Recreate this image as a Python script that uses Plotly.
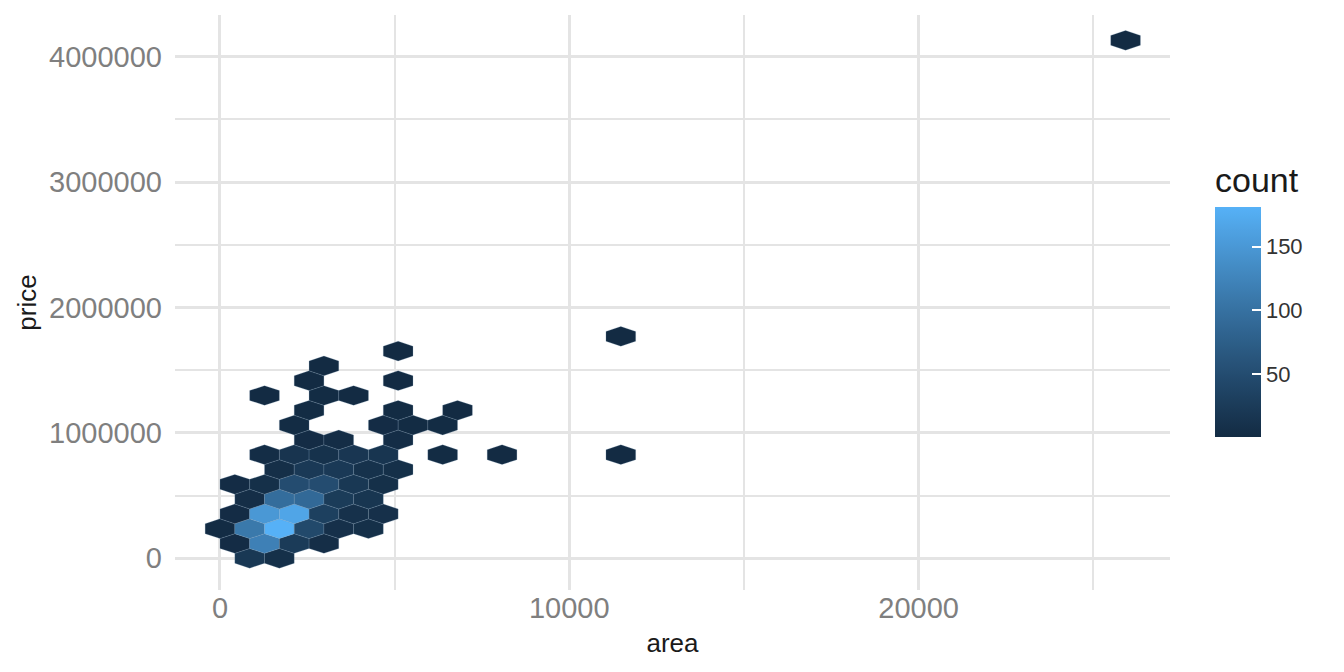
import plotly.graph_objects as go

# ---- data (hexbin centres and counts) ----
area = [
    850, 1700,                                   # row price 0
    425, 1275, 2125, 2975,                       # 118000
    0, 850, 1700, 2550, 3400, 4250,              # 236000
    425, 1275, 2125, 2975, 3825, 4675,           # 354000
    850, 1700, 2550, 3400, 4250,                 # 472000
    425, 1275, 2125, 2975, 3825, 4675,           # 590000
    1700, 2550, 3400, 4250, 5100,                # 708000
    1275, 2125, 2975, 3825, 4675, 6375, 8075, 11475,  # 826000
    2550, 3400, 5100,                            # 944000
    2125, 4675, 5525, 6375,                      # 1062000
    2550, 5100, 6800,                            # 1180000
    1275, 2975, 3825,                            # 1298000
    2550, 5100,                                  # 1416000
    2975,                                        # 1534000
    5100,                                        # 1652000
    11475,                                       # 1770000
    25925,                                       # 4130000
]
price = [
    0, 0,
    118000, 118000, 118000, 118000,
    236000, 236000, 236000, 236000, 236000, 236000,
    354000, 354000, 354000, 354000, 354000, 354000,
    472000, 472000, 472000, 472000, 472000,
    590000, 590000, 590000, 590000, 590000, 590000,
    708000, 708000, 708000, 708000, 708000,
    826000, 826000, 826000, 826000, 826000, 826000, 826000, 826000,
    944000, 944000, 944000,
    1062000, 1062000, 1062000, 1062000,
    1180000, 1180000, 1180000,
    1298000, 1298000, 1298000,
    1416000, 1416000,
    1534000,
    1652000,
    1770000,
    4130000,
]
count = [
    20, 8,
    3, 120, 25, 6,
    2, 110, 181, 45, 9, 8,
    3, 150, 166, 32, 10, 9,
    6, 95, 90, 26, 17,
    3, 8, 50, 50, 20, 8,
    7, 22, 22, 11, 8,
    4, 15, 11, 18, 16, 2, 1, 1,
    3, 4, 4,
    2, 3, 2, 2,
    2, 2, 1,
    1, 2, 1,
    1, 1,
    1,
    1,
    1,
    1,
]
x_ticks = [0, 10000, 20000]
y_ticks = [0, 1000000, 2000000, 3000000, 4000000]
legend_ticks = [50, 100, 150]

# ---- style ----
FONT = "Liberation Sans"
LOW, HIGH = (0x13, 0x2B, 0x43), (0x56, 0xB1, 0xF7)
HEX_HALF_W = 425          # half of the x bin width
HEX_R = 118000 * 2 / 3    # vertical radius of the hexagon
GRID = "#e4e4e4"

def _lin(c):
    c = c / 255
    return c / 12.92 if c <= 0.04045 else ((c + 0.055) / 1.055) ** 2.4

def _srgb(c):
    v = 12.92 * c if c <= 0.0031308 else 1.055 * c ** (1 / 2.4) - 0.055
    return max(0, min(255, round(v * 255)))

def rgb_to_lab(rgb):
    r, g, b = (_lin(v) for v in rgb)
    X = (0.4124 * r + 0.3576 * g + 0.1805 * b) / 0.95047
    Y = 0.2126 * r + 0.7152 * g + 0.0722 * b
    Z = (0.0193 * r + 0.1192 * g + 0.9505 * b) / 1.08883
    f = lambda t: t ** (1 / 3) if t > 0.008856 else 7.787 * t + 16 / 116
    fx, fy, fz = f(X), f(Y), f(Z)
    return (116 * fy - 16, 500 * (fx - fy), 200 * (fy - fz))

def lab_to_rgb(lab):
    L, a, b = lab
    fy = (L + 16) / 116
    fx, fz = fy + a / 500, fy - b / 200
    finv = lambda t: t ** 3 if t ** 3 > 0.008856 else (t - 16 / 116) / 7.787
    X, Y, Z = finv(fx) * 0.95047, finv(fy), finv(fz) * 1.08883
    r = 3.2406 * X - 1.5372 * Y - 0.4986 * Z
    g = -0.9689 * X + 1.8758 * Y + 0.0415 * Z
    bb = 0.0557 * X - 0.2040 * Y + 1.0570 * Z
    return tuple(_srgb(v) for v in (r, g, bb))

LAB_LO, LAB_HI = rgb_to_lab(LOW), rgb_to_lab(HIGH)

def ramp(t):
    lab = tuple(lo + (hi - lo) * t for lo, hi in zip(LAB_LO, LAB_HI))
    r, g, b = lab_to_rgb(lab)
    return f"rgb({r},{g},{b})"

colorscale = [[i / 20, ramp(i / 20)] for i in range(21)]
cmin, cmax = min(count), max(count)

fig = go.Figure()

for a, p, c in zip(area, price, count):
    t = (c - cmin) / (cmax - cmin)
    col = ramp(t)
    xs = [a, a + HEX_HALF_W, a + HEX_HALF_W, a, a - HEX_HALF_W, a - HEX_HALF_W, a]
    ys = [p + HEX_R, p + HEX_R / 2, p - HEX_R / 2, p - HEX_R, p - HEX_R / 2, p + HEX_R / 2, p + HEX_R]
    fig.add_trace(go.Scatter(
        x=xs, y=ys, mode="lines", fill="toself", fillcolor=col,
        line=dict(width=0.5, color="rgba(120,150,180,0.45)"),
        hoverinfo="skip", showlegend=False,
    ))

# colour bar carrier
fig.add_trace(go.Scatter(
    x=area, y=price, mode="markers", showlegend=False, hoverinfo="skip",
    marker=dict(
        color=count, colorscale=colorscale, cmin=cmin, cmax=cmax, size=1, opacity=0,
        showscale=True,
        colorbar=dict(
            title=dict(text="count", side="top", font=dict(family=FONT, size=34, color="#1a1a1a")),
            thickness=46, thicknessmode="pixels",
            len=273, lenmode="pixels",
            x=1.0452, xanchor="left", y=0.5035, yanchor="middle",
            outlinewidth=0, xpad=0, ypad=0,
            tickvals=legend_ticks, ticks="inside", ticklen=9, tickwidth=1.5, tickcolor="white",
            tickprefix="\u00a0\u00a0",
            tickfont=dict(family=FONT, size=22, color="#333333"),
        ),
    ),
))

fig.update_layout(
    width=1328, height=656,
    margin=dict(l=167, r=166, t=7, b=74),
    plot_bgcolor="white", paper_bgcolor="white",
    font=dict(family=FONT),
    xaxis=dict(
        range=[-1288, 27197], tickvals=x_ticks, ticktext=[str(v) for v in x_ticks],
        showgrid=True, gridcolor=GRID, gridwidth=2.6, zeroline=False, showline=False,
        minor=dict(dtick=5000, tick0=0, showgrid=True, gridcolor=GRID, gridwidth=2.0),
        tickfont=dict(family=FONT, size=29, color="#7f7f7f"),
        title=dict(text="area", font=dict(family=FONT, size=26, color="#1a1a1a"), standoff=10),
        ticklabelstandoff=-2,
    ),
    yaxis=dict(
        range=[-252800, 4332000], tickvals=y_ticks, ticktext=[str(v) for v in y_ticks],
        showgrid=True, gridcolor=GRID, gridwidth=2.6, zeroline=False, showline=False,
        minor=dict(dtick=500000, tick0=0, showgrid=True, gridcolor=GRID, gridwidth=2.0),
        tickfont=dict(family=FONT, size=29, color="#7f7f7f"),
        title=dict(text="price", font=dict(family=FONT, size=26, color="#1a1a1a"), standoff=4),
        ticklabelstandoff=12,
    ),
)

fig.write_html("out.html")
